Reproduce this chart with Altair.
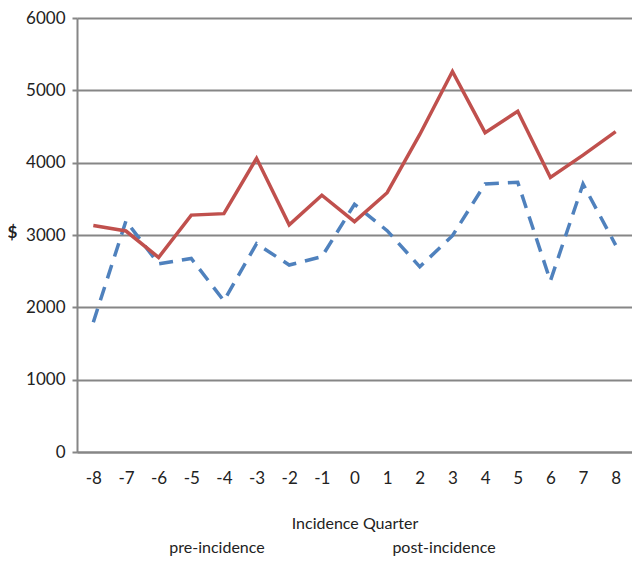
import altair as alt
import pandas as pd

quarters = [-8, -7, -6, -5, -4, -3, -2, -1, 0, 1, 2, 3, 4, 5, 6, 7, 8]
red_series = [3130, 3055, 2690, 3275, 3295, 4060, 3140, 3550, 3185, 3585, 4390, 5260, 4415, 4710, 3795, 4105, 4430]
blue_series = [1795, 3195, 2600, 2675, 2090, 2880, 2585, 2700, 3425, 3060, 2560, 2990, 3705, 3730, 2365, 3705, 2860]
y_ticks = [0, 1000, 2000, 3000, 4000, 5000, 6000]
x_title = "Incidence Quarter"
notes = ["pre-incidence", "post-incidence"]

df = pd.DataFrame({
    "quarter": quarters * 2,
    "value": red_series + blue_series,
    "series": ["A"] * len(quarters) + ["B"] * len(quarters),
})

FONT = "Lato"
GRID = "#868686"
TXT = "#222222"

x_enc = alt.X(
    "quarter:O",
    sort=quarters,
    scale=alt.Scale(padding=0.5),
    axis=alt.Axis(
        title=x_title, labelAngle=0, ticks=False, domain=True,
        domainColor=GRID, domainWidth=2, labelFontSize=17, labelFont=FONT,
        labelColor=TXT, labelPadding=18, titleFont=FONT,
        titleFontSize=16, titleFontWeight="normal", titleColor=TXT,
        titlePadding=29,
    ),
)
y_enc = alt.Y(
    "value:Q",
    scale=alt.Scale(domain=[0, 6000], nice=False),
    axis=alt.Axis(
        title="$", values=y_ticks, format="d", grid=True, gridColor=GRID, gridWidth=2,
        domainColor=GRID, domainWidth=2, tickColor=GRID, tickWidth=2, tickSize=5,
        labelFontSize=17, labelFont=FONT, labelColor=TXT, labelPadding=7,
        titleAngle=0, titleFont=FONT, titleFontSize=17, titleFontWeight="bold",
        titleColor=TXT, titleX=-65, titleY=214, titleAlign="center",
        titleBaseline="middle",
    ),
)

red = alt.Chart(df[df.series == "A"]).mark_line(
    color="#C0504D", strokeWidth=3.5
).encode(x=x_enc, y=y_enc)

blue = alt.Chart(df[df.series == "B"]).mark_line(
    color="#4F81BD", strokeWidth=3.5, strokeDash=[14, 9]
).encode(x=x_enc, y=y_enc)

notes_df = pd.DataFrame({"note": notes, "px": [140, 367]})
note_layer = alt.Chart(notes_df).mark_text(
    font=FONT, fontSize=16, color=TXT, baseline="middle", align="center"
).encode(
    text="note:N",
    x=alt.X("px:Q", scale=None),
    y=alt.value(530),
)

chart = alt.layer(blue, red, note_layer).properties(
    width=555, height=434,
    autosize=alt.AutoSizeParams(type="none"),
    padding={"left": 69, "top": 10, "right": 0, "bottom": 109},
).configure_view(stroke=None)

chart.save("out.html", embed_options={"renderer": "svg", "actions": False})
